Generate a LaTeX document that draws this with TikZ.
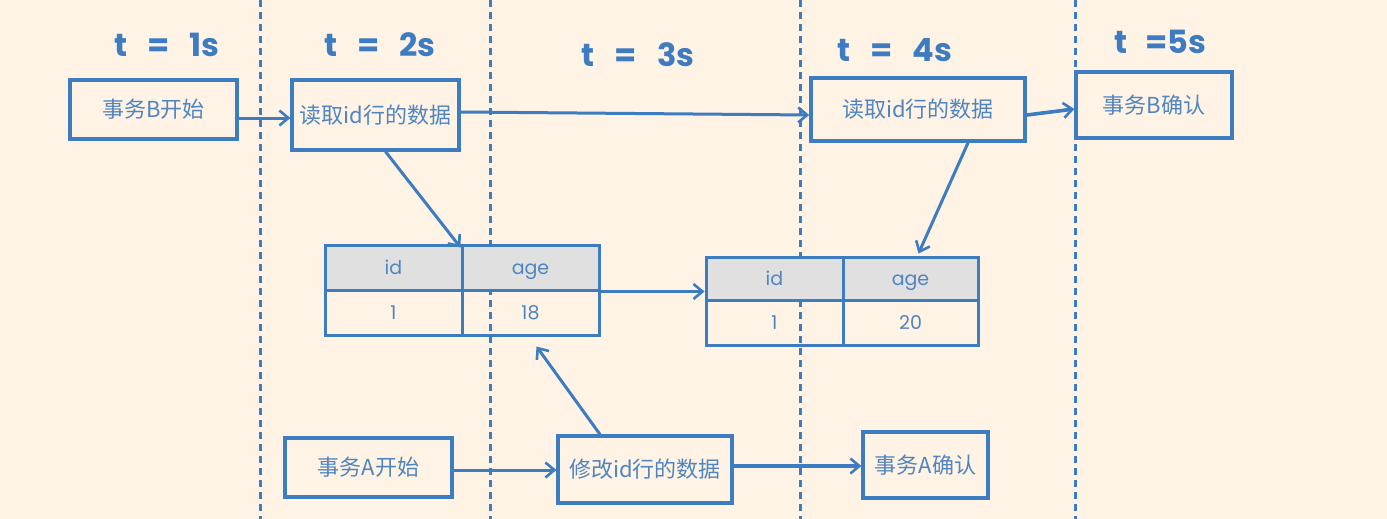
\documentclass[tikz,border=0pt]{standalone}
\usepackage{fontspec}
\newfontfamily\cjk{Noto Sans CJK SC}
\newfontfamily\hand{Poppins}
\usetikzlibrary{arrows.meta}
\definecolor{bg}{HTML}{FFF3E5}
\definecolor{ln}{HTML}{3D7CC0}
\definecolor{tx}{HTML}{4F85C0}
\definecolor{hd}{HTML}{E0E0E0}
\tikzset{
  box/.style={draw=ln, line width=3.2pt, text=tx, font=\cjk\fontsize{22}{24}\selectfont, inner sep=0pt},
  cell/.style={draw=ln, line width=3pt, text=tx, font=\hand\fontsize{19}{21}\selectfont, inner sep=0pt, text height=13pt, text depth=0pt},
  conn/.style={draw=ln, line width=3pt, -{Straight Barb[length=9pt,width=15pt,line width=2.6pt]}},
  timeline/.style={draw=ln, line width=3pt, dash pattern=on 7pt off 5pt},
  tlabel/.style={text=ln, font=\hand\bfseries\fontsize{32}{34}\selectfont}
}
\begin{document}
\begin{tikzpicture}[x=1pt,y=-1pt]
\fill[bg] (0,0) rectangle (1387,519);
\useasboundingbox (0,0) rectangle (1387,519);
% time lines
\foreach \x/\n in {260/a,490/b,800/c,1075/d}{
  \coordinate (top\n) at (\x,0);
  \coordinate (bot\n) at (\x,519);
  \draw[timeline] (top\n) -- (bot\n);
}
% time labels
\node[tlabel] (t1) at (167,45) {t\hspace{20pt}=\hspace{20pt}1s};
\node[tlabel] (t2) at (380,45) {t\hspace{20pt}=\hspace{20pt}2s};
\node[tlabel] (t3) at (638,55) {t\hspace{20pt}=\hspace{20pt}3s};
\node[tlabel] (t4) at (895,50) {t\hspace{20pt}=\hspace{20pt}4s};
\node[tlabel] (t5) at (1160,42) {t\hspace{18pt}=5s};
% boxes
\node[box, minimum width=167pt, minimum height=59pt] (bstart) at (153.5,109.5) {事务B开始};
\node[box, minimum width=167pt, minimum height=70pt] (read1) at (375.5,115) {读取id行的数据};
\node[box, line width=3.6pt, minimum width=214pt, minimum height=63pt] (read2) at (918,109.5) {读取id行的数据};
\node[box, minimum width=156pt, minimum height=66pt] (bconf) at (1154,105) {事务B确认};
\node[box, minimum width=167pt, minimum height=59pt] (astart) at (368.5,467.5) {事务A开始};
\node[box, minimum width=174pt, minimum height=67pt] (modify) at (645,469.5) {修改id行的数据};
\node[box, minimum width=125pt, minimum height=66pt] (aconf) at (925.5,465) {事务A确认};
% table 1
\node[cell, fill=hd, minimum width=137pt, minimum height=45pt] (t1ih) at (393.5,267.5) {id};
\node[cell, fill=hd, minimum width=137pt, minimum height=45pt] (t1ah) at (530.5,267.5) {age};
\node[cell, minimum width=137pt, minimum height=45pt] (t1ib) at (393.5,312.5) {1};
\node[cell, minimum width=137pt, minimum height=45pt] (t1ab) at (530.5,312.5) {18};
% table 2
\node[cell, fill=hd, minimum width=137pt, minimum height=43pt] (t2ih) at (774.5,278.5) {id};
\node[cell, fill=hd, minimum width=135pt, minimum height=43pt] (t2ah) at (910.5,278.5) {age};
\node[cell, minimum width=137pt, minimum height=45pt] (t2ib) at (774.5,322.5) {1};
\node[cell, minimum width=135pt, minimum height=45pt] (t2ab) at (910.5,322.5) {20};
% connectors
\draw[conn] ([yshift=-8.5pt]bstart.east) -- ([yshift=-3pt]read1.west);
\draw[conn] ([yshift=3pt]read1.east) -- ([yshift=-5.5pt]read2.west);
\draw[conn, line width=3.6pt] ([yshift=-5.5pt]read2.east) -- ([yshift=-4pt]bconf.west);
\draw[conn] ([xshift=10pt]read1.south) -- ([yshift=-4pt]t1ah.north west);
\draw[conn] ([xshift=50pt]read2.south) -- ([xshift=8pt,yshift=2pt]t2ah.north);
\draw[conn, line width=2.4pt] (t1ah.south east) -- (t2ih.west |- t1ah.south east);
\draw[conn] ([xshift=-45pt]modify.north) -- ([xshift=6pt,yshift=-10pt]t1ab.south);
\draw[conn] ([yshift=-2.5pt]astart.east) -- ([yshift=-0.5pt]modify.west);
\draw[conn, line width=3.6pt] ([yshift=3.5pt]modify.east) -- ([yshift=-1pt]aconf.west);
\end{tikzpicture}
\end{document}
